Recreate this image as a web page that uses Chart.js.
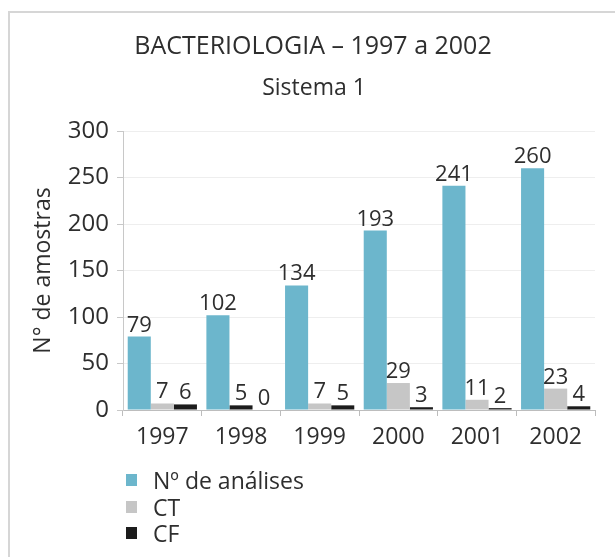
<!DOCTYPE html>
<html>
<head>
<meta charset="utf-8">
<script src="https://cdn.jsdelivr.net/npm/chart.js@4.4.1/dist/chart.umd.min.js"></script>
<style>
  html, body { margin: 0; padding: 0; background: #fff; }
  #wrap { position: relative; width: 615px; height: 557px; overflow: hidden; }
  #frame { position: absolute; left: 8px; top: 11px; width: 640px; height: 600px;
           border-top: 2px solid #d6d6d6; border-left: 2px solid #d6d6d6; box-sizing: border-box; }
  canvas { position: absolute; left: 0; top: 0; }
  #legend { position: absolute; left: 126px; top: 467px; font-family: "Open Sans", sans-serif;
            font-size: 23px; color: #2e2e2e; }
  #legend .item { display: flex; align-items: center; height: 26.5px; }
  #legend .box { width: 11px; height: 12px; margin-right: 16px; }
</style>
</head>
<body>
<div id="wrap">
  <div id="frame"></div>
  <canvas id="c" width="615" height="557"></canvas>
  <div id="legend"></div>
</div>
<script>
// Sample counts per year
const years = ['1997', '1998', '1999', '2000', '2001', '2002'];
const analises = [79, 102, 134, 193, 241, 260];
const ct = [7, 5, 7, 29, 11, 23];
const cf = [6, 0, 5, 3, 2, 4];
const yTicks = [0, 50, 100, 150, 200, 250, 300];

const BLUE = '#6cb6cc';
const GREY = '#c6c6c6';
const BLACK = '#1c1c1c';
const TEXT = '#2e2e2e';
const FONT = '"Open Sans", sans-serif';

// Value written above every bar
const valueLabels = {
  id: 'valueLabels',
  afterDatasetsDraw(chart) {
    const ctx = chart.ctx;
    ctx.save();
    ctx.font = '22px ' + FONT;
    ctx.fillStyle = TEXT;
    ctx.textAlign = 'center';
    ctx.textBaseline = 'alphabetic';
    chart.data.datasets.forEach((ds, i) => {
      chart.getDatasetMeta(i).data.forEach((bar, j) => {
        ctx.fillText(String(ds.data[j]), bar.x, bar.y - 5);
      });
    });
    ctx.restore();
  }
};

// Centered headings
const headings = {
  id: 'headings',
  afterDraw(chart) {
    const ctx = chart.ctx;
    ctx.save();
    ctx.fillStyle = TEXT;
    ctx.textAlign = 'center';
    ctx.textBaseline = 'middle';
    ctx.font = '25px ' + FONT;
    ctx.fillText('BACTERIOLOGIA – 1997 a 2002', 313, 47);
    ctx.font = '23px ' + FONT;
    ctx.fillText('Sistema 1', 314, 88);
    ctx.restore();
  }
};

const chart = new Chart(document.getElementById('c'), {
  type: 'bar',
  data: {
    labels: years,
    datasets: [
      { label: 'Nº de análises', data: analises, backgroundColor: BLUE, legendColor: BLUE },
      { label: 'CT', data: ct, legendColor: GREY,
        backgroundColor: c => (c.dataIndex === 1 ? BLACK : GREY) },
      { label: 'CF', data: cf, backgroundColor: BLACK, legendColor: BLACK }
    ]
  },
  options: {
    responsive: false,
    animation: false,
    datasets: { bar: { categoryPercentage: 0.88, barPercentage: 1.0 } },
    layout: { padding: { top: 131, right: 20, bottom: 107, left: 0 } },
    plugins: { legend: { display: false }, tooltip: { enabled: false } },
    scales: {
      x: {
        afterFit: s => { s.height = 40; },
        grid: { offset: true, drawOnChartArea: false, drawTicks: true, tickLength: 6, color: '#bdbdbd' },
        border: { color: '#bdbdbd', width: 1 },
        ticks: { color: TEXT, font: { family: FONT, size: 23 }, padding: 8 }
      },
      y: {
        min: 0, max: 300,
        afterFit: s => { s.width = 123; },
        afterBuildTicks: s => { s.ticks = yTicks.map(v => ({ value: v })); },
        grid: { color: '#eeeeee', tickLength: 6, tickColor: '#c8c8c8' },
        border: { color: '#c8c8c8', width: 1 },
        ticks: { color: TEXT, font: { family: FONT, size: 24 }, padding: 8 },
        title: { display: true, text: 'N° de amostras', color: TEXT,
                 font: { family: FONT, size: 23 }, padding: { top: 30, bottom: 0 } }
      }
    }
  },
  plugins: [valueLabels, headings]
});

// Vertical legend beneath the plot
const legend = document.getElementById('legend');
chart.data.datasets.forEach(ds => {
  const item = document.createElement('div');
  item.className = 'item';
  const box = document.createElement('span');
  box.className = 'box';
  box.style.background = ds.legendColor;
  const txt = document.createElement('span');
  txt.textContent = ds.label;
  item.appendChild(box);
  item.appendChild(txt);
  legend.appendChild(item);
});
</script>
</body>
</html>
